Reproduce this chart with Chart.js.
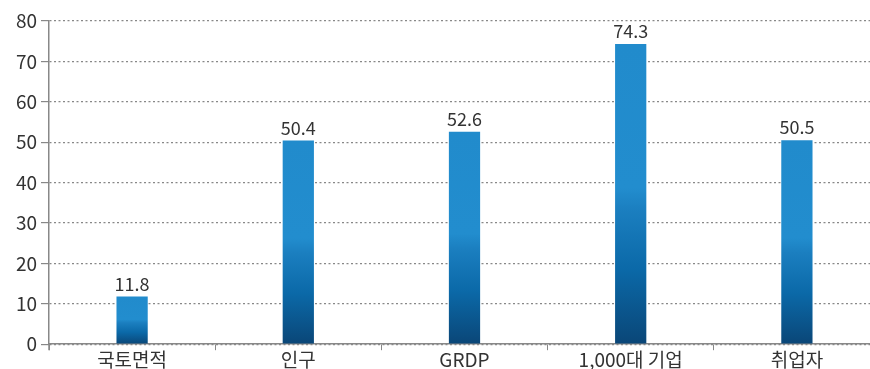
<!DOCTYPE html>
<html>
<head>
<meta charset="utf-8">
<script src="https://cdn.jsdelivr.net/npm/chart.js@4/dist/chart.umd.min.js"></script>
<style>
html,body{margin:0;padding:0;background:#fff;overflow:hidden;}
#wrap{width:882px;height:369px;}
</style>
</head>
<body>
<div id="wrap"><canvas id="c" width="882" height="369"></canvas></div>
<script>
const categories = ['국토면적', '인구', 'GRDP', '1,000대 기업', '취업자'];
const values = [11.8, 50.4, 52.6, 74.3, 50.5];
const yTicks = [0, 10, 20, 30, 40, 50, 60, 70, 80];

const FONT = '"Noto Sans CJK KR", "Noto Sans", sans-serif';

function barGradient(context) {
  const chart = context.chart;
  const area = chart.chartArea;
  if (!area || context.raw === undefined) return '#218bcc';
  const ys = chart.scales.y;
  const top = ys.getPixelForValue(context.raw);
  const bottom = ys.getPixelForValue(0);
  const g = chart.ctx.createLinearGradient(0, top, 0, bottom);
  g.addColorStop(0, '#218bcc');
  g.addColorStop(0.48, '#228dce');
  g.addColorStop(0.55, '#1b7fc0');
  g.addColorStop(0.75, '#0b69a8');
  g.addColorStop(1, '#0a4677');
  return g;
}

const valueLabels = {
  id: 'valueLabels',
  afterDatasetsDraw(chart) {
    const ctx = chart.ctx;
    const meta = chart.getDatasetMeta(0);
    ctx.save();
    ctx.font = '18px ' + FONT;
    ctx.fillStyle = '#333';
    ctx.textAlign = 'center';
    ctx.textBaseline = 'alphabetic';
    meta.data.forEach((bar, i) => {
      ctx.fillText(values[i].toFixed(1), bar.x, bar.y - 6);
    });
    ctx.restore();
  },
  afterDraw(chart) {
    const ctx = chart.ctx;
    const a = chart.chartArea;
    ctx.save();
    ctx.strokeStyle = '#888';
    ctx.lineWidth = 1.5;
    ctx.beginPath();
    ctx.moveTo(a.left, a.bottom);
    ctx.lineTo(a.left, a.bottom + 6);
    ctx.stroke();
    ctx.restore();
  }
};

new Chart(document.getElementById('c'), {
  type: 'bar',
  data: {
    labels: categories,
    datasets: [{
      data: values,
      backgroundColor: barGradient,
      borderWidth: 0,
      categoryPercentage: 1,
      barPercentage: 0.188
    }]
  },
  options: {
    responsive: false,
    animation: false,
    devicePixelRatio: 1,
    layout: { padding: { top: 21, left: 0, right: 2, bottom: 0 } },
    plugins: { legend: { display: false }, tooltip: { enabled: false } },
    scales: {
      x: {
        offset: true,
        grid: {
          display: true,
          drawOnChartArea: false,
          drawTicks: true,
          tickLength: 6,
          color: '#888',
          offset: true
        },
        border: { display: true, color: '#888', width: 1.5 },
        ticks: {
          color: '#333',
          font: { family: FONT, size: 19 },
          padding: -2,
          maxRotation: 0
        }
      },
      y: {
        min: 0,
        max: 80,
        afterBuildTicks(axis) { axis.ticks = yTicks.map(v => ({ value: v })); },
        afterFit(axis) { axis.width = 49; },
        grid: {
          color: '#888',
          lineWidth: 1.2,
          drawTicks: true,
          tickLength: 8,
          tickBorderDash: [],
          tickColor: '#888'
        },
        border: { display: true, color: '#888', width: 1.5, dash: [2, 2.5] },
        ticks: {
          color: '#333',
          font: { family: FONT, size: 19 },
          padding: 4
        }
      }
    }
  },
  plugins: [valueLabels]
});
</script>
</body>
</html>
